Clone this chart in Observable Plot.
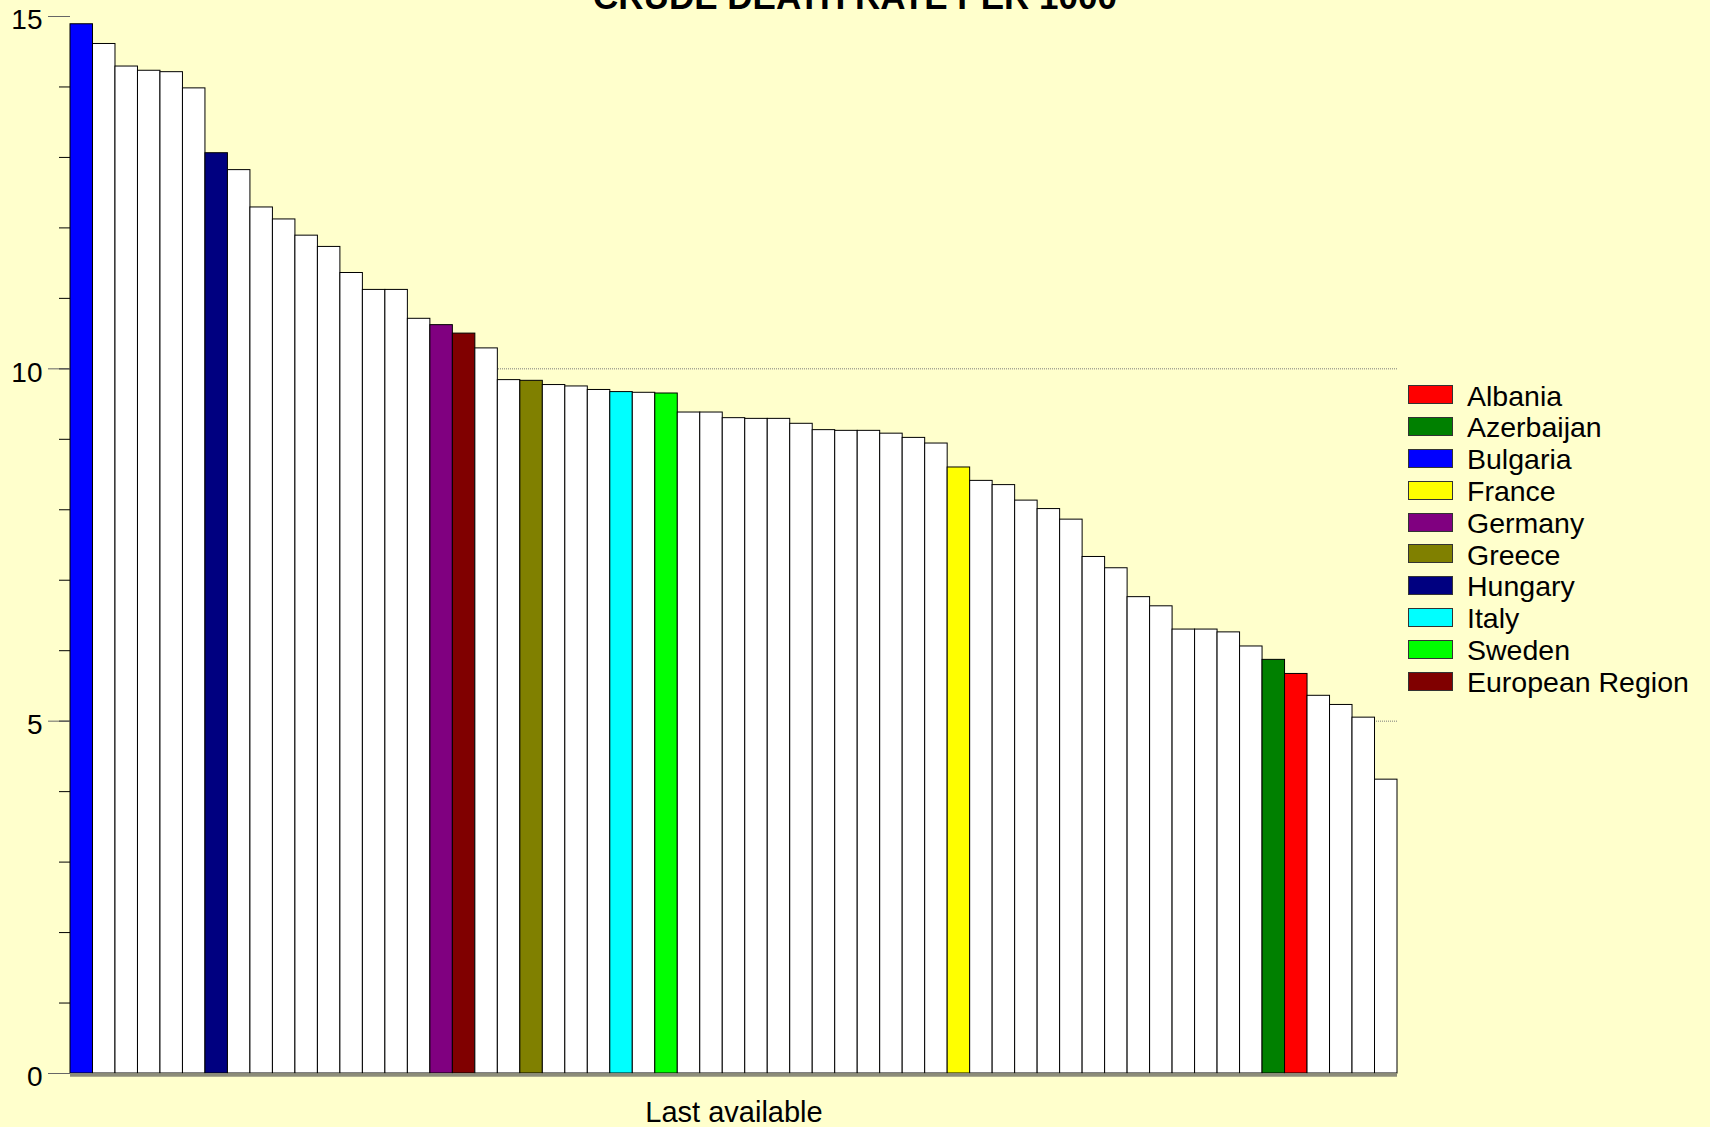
<!DOCTYPE html>
<html>
<head>
<meta charset="utf-8">
<script src="https://cdn.jsdelivr.net/npm/d3@7"></script>
<script src="https://cdn.jsdelivr.net/npm/@observablehq/plot@0.6"></script>
<style>
html, body { margin: 0; padding: 0; background: #FFFFCC; overflow: hidden; }
#wrap { position: relative; width: 1710px; height: 1127px; font-family: "Liberation Sans", Arial, sans-serif; }
#title { position: absolute; left: 0; width: 1710px; top: -21px; text-align: center;
  font: bold 35px/1 "Liberation Sans", Arial, sans-serif; color: #000; white-space: nowrap; }
#chart { position: absolute; left: 0; top: 0; }
#legend { position: absolute; left: 1408px; top: 379px; }
.row { height: 31.8px; display: flex; align-items: center; }
.sw { width: 43px; height: 17px; border: 1px solid #333; margin-right: 14px; flex: none; }
.lab { font-size: 28.5px; line-height: 1; color: #000; position: relative; top: 1px; white-space: nowrap; }
</style>
</head>
<body>
<div id="wrap">
  <div id="chart"></div>
  <div id="title"></div>
  <div id="legend"></div>
</div>
<script>
// ---- data ----
const titleText = "CRUDE DEATH RATE PER 1000";
const xLabel = "Last available";
const values = [
  14.89, 14.61, 14.29, 14.23, 14.21, 13.98, 13.06, 12.82, 12.29, 12.12,
  11.89, 11.73, 11.36, 11.12, 11.12, 10.71, 10.62, 10.50, 10.29, 9.84,
  9.83, 9.77, 9.75, 9.70, 9.67, 9.66, 9.65, 9.38, 9.38, 9.30,
  9.29, 9.29, 9.22, 9.13, 9.12, 9.12, 9.08, 9.02, 8.94, 8.60,
  8.41, 8.35, 8.13, 8.01, 7.86, 7.33, 7.17, 6.76, 6.63, 6.30,
  6.30, 6.26, 6.06, 5.87, 5.67, 5.36, 5.23, 5.05, 4.17
];
const highlightCountries = ["Bulgaria", "Hungary", "Germany", "European Region", "Greece", "Italy", "Sweden", "France", "Azerbaijan", "Albania"];
const highlightPositions = [0, 6, 16, 17, 20, 24, 26, 39, 53, 54];
const legendOrder = ["Albania", "Azerbaijan", "Bulgaria", "France", "Germany", "Greece", "Hungary", "Italy", "Sweden", "European Region"];
const legendColors = ["#FF0000", "#008000", "#0000FF", "#FFFF00", "#800080", "#808000", "#000080", "#00FFFF", "#00FF00", "#800000"];
const otherLabel = "Other";
const otherColor = "#FFFFFF";
const yTicks = [0, 5, 10, 15];
const yMinorTicks = d3.range(0, 16);
const gridLines = [5, 10];

// ---- build table ----
const data = values.map((v, i) => {
  const k = highlightPositions.indexOf(i);
  return { i, v, country: k >= 0 ? highlightCountries[k] : otherLabel };
});

const font = "Liberation Sans, Arial, sans-serif";

const plot = Plot.plot({
  width: 1710,
  height: 1127,
  marginLeft: 70,
  marginRight: 313,
  marginTop: 16,
  marginBottom: 54,
  style: { background: "transparent", fontFamily: font, overflow: "visible" },
  x: { type: "band", domain: d3.range(values.length), padding: 0, round: false, axis: null },
  y: { domain: [0, 15], axis: null },
  color: { type: "ordinal", domain: [...legendOrder, otherLabel], range: [...legendColors, otherColor] },
  marks: [
    Plot.ruleY(gridLines, { stroke: "#7a7a7a", strokeDasharray: "1,1", strokeWidth: 1 }),
    Plot.barY(data, { x: "i", y: "v", fill: "country", stroke: "#000", strokeWidth: 1 }),
    Plot.ruleY([0], { stroke: "#8c8c7a", strokeWidth: 3.5, dy: 1.5 }),
    Plot.axisY(yMinorTicks, { tickSize: 11, tickFormat: () => "", stroke: "#000", label: null }),
    Plot.axisY(yTicks, { tickSize: 22, tickFormat: () => "", stroke: "#666", label: null }),
    Plot.text(yTicks, { y: d => d, text: d => String(d), frameAnchor: "left", dx: -28, dy: 4,
      textAnchor: "end", fontSize: 28, fill: "#000" }),
    Plot.text([xLabel], { text: d => d, frameAnchor: "bottom", lineAnchor: "bottom", dy: 48,
      fontSize: 29, fill: "#000" })
  ]
});
document.getElementById("chart").appendChild(plot);
document.getElementById("title").textContent = titleText;

// ---- legend using the plot's colour scale ----
const color = plot.scale("color");
const colorFn = d3.scaleOrdinal(color.domain, color.range);
const legend = document.getElementById("legend");
legendOrder.forEach(name => {
  const row = document.createElement("div");
  row.className = "row";
  const sw = document.createElement("div");
  sw.className = "sw";
  sw.style.background = colorFn(name);
  const lab = document.createElement("span");
  lab.className = "lab";
  lab.textContent = name;
  row.appendChild(sw);
  row.appendChild(lab);
  legend.appendChild(row);
});
</script>
</body>
</html>
